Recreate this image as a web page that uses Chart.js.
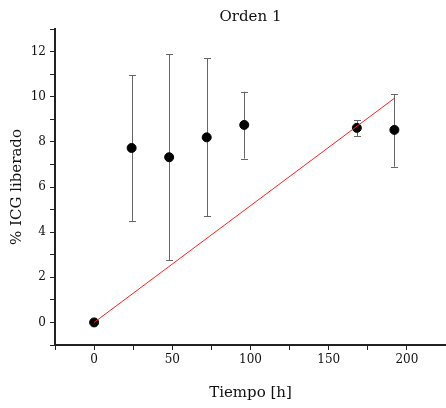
<!DOCTYPE html>
<html>
<head>
<meta charset="utf-8">
<script src="https://cdn.jsdelivr.net/npm/chart.js@4.4.1/dist/chart.umd.min.js"></script>
<style>
  html, body { margin: 0; padding: 0; background: #fff; }
  #wrap { width: 446px; height: 408px; }
</style>
</head>
<body>
<div id="wrap"><canvas id="chart"></canvas></div>
<script>
// Data
const tiempo = [0, 24, 48, 72, 96, 168, 192]
const liberado = [0, 7.73, 7.32, 8.2, 8.75, 8.62, 8.53]
const errAlto = [0, 10.95, 11.88, 11.7, 10.22, 8.97, 10.1]
const errBajo = [0, 4.5, 2.76, 4.71, 7.26, 8.26, 6.9]

// Orden 1 fit
const ajusteX = [0, 192]
const ajusteY = [0, 9.93]

const fuente = 'DejaVu Serif'

// error bars, drawn under the points
const errorBars = {
    id: 'errorBars',
    beforeDatasetsDraw(chart) {
        const ctx = chart.ctx
        const xs = chart.scales.x
        const ys = chart.scales.y
        ctx.save()
        ctx.strokeStyle = '#666'
        ctx.lineWidth = 1
        tiempo.forEach((t, i) => {
            if (errAlto[i] === errBajo[i]) return
            const px = Math.round(xs.getPixelForValue(t)) + 0.5
            const top = ys.getPixelForValue(errAlto[i])
            const bot = ys.getPixelForValue(errBajo[i])
            ctx.beginPath()
            ctx.moveTo(px, top)
            ctx.lineTo(px, bot)
            ctx.moveTo(px - 3.5, Math.round(top) + 0.5)
            ctx.lineTo(px + 3.5, Math.round(top) + 0.5)
            ctx.moveTo(px - 3.5, Math.round(bot) + 0.5)
            ctx.lineTo(px + 3.5, Math.round(bot) + 0.5)
            ctx.stroke()
        })
        ctx.restore()
    }
}

const ctx = document.getElementById('chart').getContext('2d')
const chart = new Chart(ctx, {
    type: 'scatter',
    data: {
        datasets: [
            {
                label: 'Orden 1',
                data: tiempo.map((t, i) => ({ x: t, y: liberado[i] })),
                backgroundColor: '#000',
                borderColor: '#000',
                pointRadius: 4.5,
                pointHoverRadius: 4.5,
                order: 2
            },
            {
                label: 'Ajuste',
                data: ajusteX.map((t, i) => ({ x: t, y: ajusteY[i] })),
                showLine: true,
                borderColor: '#ff2020',
                borderWidth: 1,
                pointRadius: 0,
                fill: false,
                order: 1
            }
        ]
    },
    options: {
        responsive: true,
        maintainAspectRatio: false,
        animation: false,
        layout: { padding: 0, autoPadding: false },
        plugins: {
            legend: { display: false },
            tooltip: { enabled: false },
            title: {
                display: true,
                text: 'Orden 1',
                fullSize: false,
                color: '#111',
                font: { family: fuente, size: 15, weight: 'normal' },
                padding: { top: 8, bottom: 3 }
            }
        },
        scales: {
            x: {
                type: 'linear',
                min: -25,
                max: 225,
                grid: { drawOnChartArea: false, drawTicks: true, tickLength: 5, tickColor: '#222' },
                border: { color: '#222', width: 2 },
                ticks: {
                    stepSize: 25,
                    autoSkip: false,
                    maxRotation: 0,
                    padding: 3,
                    color: '#111',
                    font: { family: fuente, size: 12 },
                    callback: v => (v % 50 === 0 ? v : '')
                },
                title: {
                    display: true,
                    text: 'Tiempo [h]',
                    color: '#111',
                    font: { family: fuente, size: 15 },
                    padding: { top: 0, bottom: 6 }
                },
                afterFit: s => {
                    s.height = 63
                    s.paddingRight = 0
                }
            },
            y: {
                min: -1,
                max: 13,
                grid: { drawOnChartArea: false, drawTicks: true, tickLength: 5, tickColor: '#222' },
                border: { color: '#222', width: 2 },
                ticks: {
                    stepSize: 1,
                    autoSkip: false,
                    padding: 4,
                    color: '#111',
                    font: { family: fuente, size: 12 },
                    callback: v => (v % 2 === 0 ? v : '')
                },
                title: {
                    display: true,
                    text: '% ICG liberado',
                    color: '#111',
                    font: { family: fuente, size: 15 },
                    padding: { top: 8, bottom: 0 }
                },
                afterFit: s => { s.width = 55 }
            }
        }
    },
    plugins: [errorBars]
})
</script>
</body>
</html>
